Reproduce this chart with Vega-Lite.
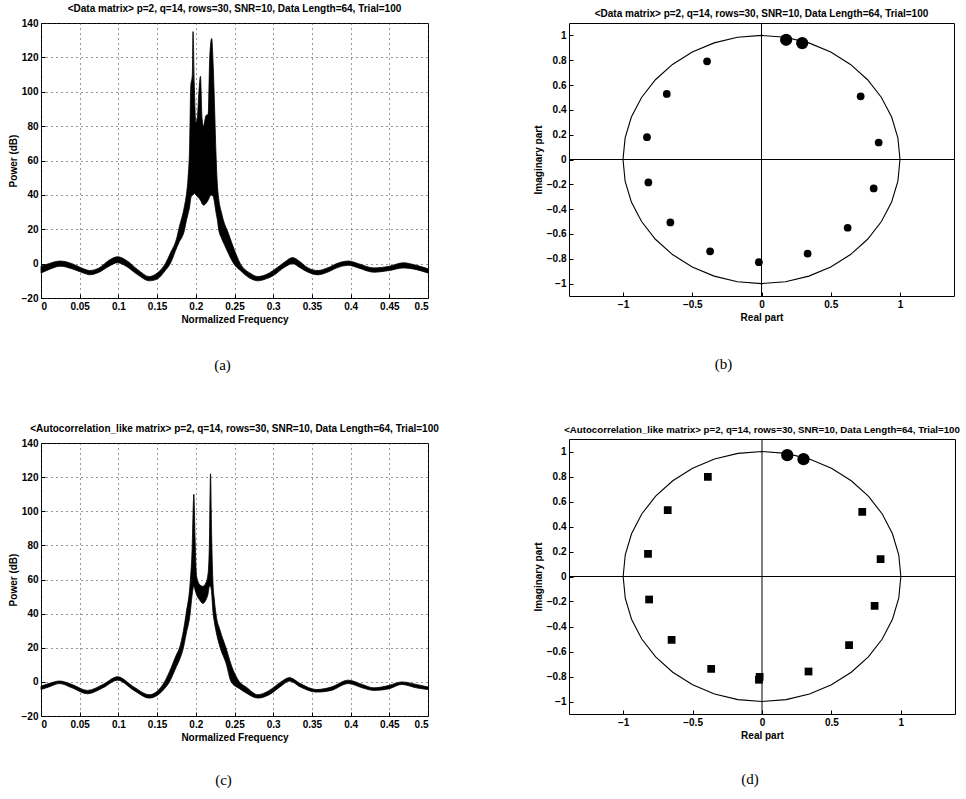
{
  "$schema": "https://vega.github.io/schema/vega-lite/v6.json",
  "background": "white",
  "padding": {"left": 7, "top": 3, "right": 0, "bottom": 0},
  "datasets": {
    "specA": [
      {"f": 0.000, "lo": -5.5, "hi": -1.5}, {"f": 0.010, "lo": -3.5, "hi": 0}, {"f": 0.025, "lo": -1.5, "hi": 1.5},
      {"f": 0.040, "lo": -3, "hi": 0}, {"f": 0.055, "lo": -5.5, "hi": -3}, {"f": 0.063, "lo": -6.5, "hi": -4},
      {"f": 0.075, "lo": -5, "hi": -2.5}, {"f": 0.088, "lo": -1.5, "hi": 2}, {"f": 0.099, "lo": 0.5, "hi": 4},
      {"f": 0.110, "lo": -1.5, "hi": 2}, {"f": 0.125, "lo": -6.5, "hi": -3.5}, {"f": 0.140, "lo": -10, "hi": -7.5},
      {"f": 0.150, "lo": -9, "hi": -5.5}, {"f": 0.1606, "lo": -4, "hi": 0}, {"f": 0.167, "lo": 0, "hi": 6},
      {"f": 0.176, "lo": 10, "hi": 16}, {"f": 0.178, "lo": 12, "hi": 20}, {"f": 0.1856, "lo": 20, "hi": 34},
      {"f": 0.1878, "lo": 25, "hi": 40}, {"f": 0.190, "lo": 29, "hi": 50}, {"f": 0.192, "lo": 33, "hi": 68},
      {"f": 0.1935, "lo": 38, "hi": 103}, {"f": 0.1955, "lo": 40, "hi": 110}, {"f": 0.1964, "lo": 40, "hi": 135},
      {"f": 0.198, "lo": 41, "hi": 105}, {"f": 0.200, "lo": 40, "hi": 82}, {"f": 0.202, "lo": 39, "hi": 85},
      {"f": 0.204, "lo": 38, "hi": 100}, {"f": 0.206, "lo": 37, "hi": 109}, {"f": 0.208, "lo": 35, "hi": 85},
      {"f": 0.210, "lo": 34, "hi": 80}, {"f": 0.213, "lo": 35, "hi": 86}, {"f": 0.216, "lo": 37, "hi": 87},
      {"f": 0.218, "lo": 39, "hi": 120}, {"f": 0.2205, "lo": 40, "hi": 131}, {"f": 0.2225, "lo": 39, "hi": 115},
      {"f": 0.224, "lo": 36, "hi": 95}, {"f": 0.226, "lo": 30, "hi": 65}, {"f": 0.228, "lo": 25, "hi": 45},
      {"f": 0.2295, "lo": 20, "hi": 38}, {"f": 0.233, "lo": 15, "hi": 30}, {"f": 0.238, "lo": 10, "hi": 22},
      {"f": 0.240, "lo": 8, "hi": 20}, {"f": 0.249, "lo": 0, "hi": 9}, {"f": 0.2575, "lo": -4, "hi": 0},
      {"f": 0.270, "lo": -8.5, "hi": -5.5}, {"f": 0.280, "lo": -10, "hi": -7.5}, {"f": 0.290, "lo": -9, "hi": -6.5},
      {"f": 0.300, "lo": -7, "hi": -4}, {"f": 0.315, "lo": -2, "hi": 1}, {"f": 0.325, "lo": 0, "hi": 3.5},
      {"f": 0.335, "lo": -2.5, "hi": 1}, {"f": 0.345, "lo": -5, "hi": -2.5}, {"f": 0.358, "lo": -6.5, "hi": -4},
      {"f": 0.370, "lo": -5, "hi": -2.5}, {"f": 0.385, "lo": -2, "hi": 0.5}, {"f": 0.397, "lo": -1, "hi": 1.5},
      {"f": 0.410, "lo": -2.5, "hi": 0}, {"f": 0.430, "lo": -5, "hi": -2.5}, {"f": 0.450, "lo": -4, "hi": -1.5},
      {"f": 0.468, "lo": -2.5, "hi": 0.5}, {"f": 0.485, "lo": -3.5, "hi": -1}, {"f": 0.500, "lo": -5.5, "hi": -3}
    ],
    "specC": [
      {"f": 0.000, "lo": -4.5, "hi": -2.5}, {"f": 0.010, "lo": -3, "hi": -1}, {"f": 0.024, "lo": -1, "hi": 0.5},
      {"f": 0.040, "lo": -3.5, "hi": -1.5}, {"f": 0.060, "lo": -7, "hi": -5}, {"f": 0.080, "lo": -3.5, "hi": -1.5},
      {"f": 0.099, "lo": 1, "hi": 3}, {"f": 0.120, "lo": -5, "hi": -3}, {"f": 0.140, "lo": -9.5, "hi": -7.5},
      {"f": 0.150, "lo": -8, "hi": -5.5}, {"f": 0.1595, "lo": -4, "hi": 0}, {"f": 0.166, "lo": 0, "hi": 6},
      {"f": 0.175, "lo": 9, "hi": 16}, {"f": 0.179, "lo": 13, "hi": 20}, {"f": 0.184, "lo": 20, "hi": 30},
      {"f": 0.1875, "lo": 28, "hi": 40}, {"f": 0.1927, "lo": 40, "hi": 58}, {"f": 0.195, "lo": 50, "hi": 75},
      {"f": 0.1975, "lo": 56, "hi": 110}, {"f": 0.199, "lo": 54, "hi": 85}, {"f": 0.201, "lo": 51, "hi": 62},
      {"f": 0.205, "lo": 48, "hi": 57}, {"f": 0.209, "lo": 46, "hi": 56}, {"f": 0.213, "lo": 48, "hi": 58},
      {"f": 0.216, "lo": 52, "hi": 64}, {"f": 0.2175, "lo": 56, "hi": 80}, {"f": 0.219, "lo": 56, "hi": 122},
      {"f": 0.2205, "lo": 52, "hi": 85}, {"f": 0.222, "lo": 42, "hi": 60}, {"f": 0.224, "lo": 35, "hi": 48},
      {"f": 0.226, "lo": 30, "hi": 40}, {"f": 0.2315, "lo": 20, "hi": 30}, {"f": 0.239, "lo": 11, "hi": 20},
      {"f": 0.2457, "lo": 0, "hi": 10}, {"f": 0.2565, "lo": -4, "hi": 0}, {"f": 0.265, "lo": -6.5, "hi": -3},
      {"f": 0.280, "lo": -9.5, "hi": -7.5}, {"f": 0.295, "lo": -7.5, "hi": -5}, {"f": 0.310, "lo": -2.5, "hi": 0},
      {"f": 0.321, "lo": 0.5, "hi": 2.5}, {"f": 0.335, "lo": -3, "hi": -1}, {"f": 0.356, "lo": -6, "hi": -4.5},
      {"f": 0.375, "lo": -5, "hi": -3}, {"f": 0.397, "lo": -1, "hi": 1}, {"f": 0.415, "lo": -3.5, "hi": -1.5},
      {"f": 0.430, "lo": -5, "hi": -3.5}, {"f": 0.450, "lo": -4, "hi": -2}, {"f": 0.466, "lo": -1.5, "hi": 0},
      {"f": 0.485, "lo": -3.5, "hi": -1.5}, {"f": 0.500, "lo": -4.5, "hi": -3}
    ],
    "circle": [
      {"deg": 0, "re": 1, "im": 0}, {"deg": 10, "re": 0.9848, "im": 0.1736}, {"deg": 20, "re": 0.9397, "im": 0.342},
      {"deg": 30, "re": 0.866, "im": 0.5}, {"deg": 40, "re": 0.766, "im": 0.6428}, {"deg": 50, "re": 0.6428, "im": 0.766},
      {"deg": 60, "re": 0.5, "im": 0.866}, {"deg": 70, "re": 0.342, "im": 0.9397}, {"deg": 80, "re": 0.1736, "im": 0.9848},
      {"deg": 90, "re": 0, "im": 1}, {"deg": 100, "re": -0.1736, "im": 0.9848}, {"deg": 110, "re": -0.342, "im": 0.9397},
      {"deg": 120, "re": -0.5, "im": 0.866}, {"deg": 130, "re": -0.6428, "im": 0.766}, {"deg": 140, "re": -0.766, "im": 0.6428},
      {"deg": 150, "re": -0.866, "im": 0.5}, {"deg": 160, "re": -0.9397, "im": 0.342}, {"deg": 170, "re": -0.9848, "im": 0.1736},
      {"deg": 180, "re": -1, "im": 0}, {"deg": 190, "re": -0.9848, "im": -0.1736}, {"deg": 200, "re": -0.9397, "im": -0.342},
      {"deg": 210, "re": -0.866, "im": -0.5}, {"deg": 220, "re": -0.766, "im": -0.6428}, {"deg": 230, "re": -0.6428, "im": -0.766},
      {"deg": 240, "re": -0.5, "im": -0.866}, {"deg": 250, "re": -0.342, "im": -0.9397}, {"deg": 260, "re": -0.1736, "im": -0.9848},
      {"deg": 270, "re": 0, "im": -1}, {"deg": 280, "re": 0.1736, "im": -0.9848}, {"deg": 290, "re": 0.342, "im": -0.9397},
      {"deg": 300, "re": 0.5, "im": -0.866}, {"deg": 310, "re": 0.6428, "im": -0.766}, {"deg": 320, "re": 0.766, "im": -0.6428},
      {"deg": 330, "re": 0.866, "im": -0.5}, {"deg": 340, "re": 0.9397, "im": -0.342}, {"deg": 350, "re": 0.9848, "im": -0.1736},
      {"deg": 360, "re": 1, "im": 0}
    ],
    "polesB": [
      {"re": 0.178, "im": 0.965, "kind": "signal"}, {"re": 0.294, "im": 0.938, "kind": "signal"},
      {"re": 0.716, "im": 0.509, "kind": "noise"}, {"re": 0.846, "im": 0.137, "kind": "noise"},
      {"re": 0.810, "im": -0.233, "kind": "noise"}, {"re": 0.622, "im": -0.550, "kind": "noise"},
      {"re": 0.333, "im": -0.759, "kind": "noise"}, {"re": -0.019, "im": -0.828, "kind": "noise"},
      {"re": -0.371, "im": -0.740, "kind": "noise"}, {"re": -0.658, "im": -0.507, "kind": "noise"},
      {"re": -0.817, "im": -0.185, "kind": "noise"}, {"re": -0.827, "im": 0.180, "kind": "noise"},
      {"re": -0.684, "im": 0.528, "kind": "noise"}, {"re": -0.393, "im": 0.791, "kind": "noise"}
    ],
    "polesD": [
      {"re": 0.182, "im": 0.971, "kind": "signal"}, {"re": 0.299, "im": 0.939, "kind": "signal"},
      {"re": 0.722, "im": 0.517, "kind": "noise"}, {"re": 0.854, "im": 0.139, "kind": "noise"},
      {"re": 0.811, "im": -0.235, "kind": "noise"}, {"re": 0.627, "im": -0.549, "kind": "noise"},
      {"re": 0.335, "im": -0.760, "kind": "noise"}, {"re": -0.017, "im": -0.803, "kind": "noise"},
      {"re": -0.022, "im": -0.826, "kind": "noise"}, {"re": -0.366, "im": -0.739, "kind": "noise"},
      {"re": -0.651, "im": -0.507, "kind": "noise"}, {"re": -0.813, "im": -0.184, "kind": "noise"},
      {"re": -0.821, "im": 0.181, "kind": "noise"}, {"re": -0.679, "im": 0.531, "kind": "noise"},
      {"re": -0.390, "im": 0.797, "kind": "noise"}
    ],
    "origin": [{"re": 0, "im": 0}]
  },
  "hconcat": [
    {
      "spacing": 0,
      "vconcat": [
        {
          "width": 387, "height": 275,
          "title": "<Data matrix> p=2, q=14, rows=30, SNR=10, Data Length=64, Trial=100",
          "data": {"name": "specA"},
          "mark": {"type": "area", "color": "black", "stroke": "black", "strokeWidth": 0.8, "interpolate": "monotone"},
          "encoding": {
            "x": {"field": "f", "type": "quantitative", "scale": {"domain": [0, 0.5], "nice": false},
                  "axis": {"values": [0, 0.05, 0.1, 0.15, 0.2, 0.25, 0.3, 0.35, 0.4, 0.45, 0.5], "format": "~g", "title": "Normalized Frequency", "grid": true}},
            "y": {"field": "hi", "type": "quantitative", "scale": {"domain": [-20, 140], "nice": false},
                  "axis": {"values": [-20, 0, 20, 40, 60, 80, 100, 120, 140], "title": "Power (dB)", "grid": true}},
            "y2": {"field": "lo"}
          }
        },
        {
          "width": 387, "height": 98,
          "view": {"stroke": null},
          "data": {"values": [{"label": "(a)"}]},
          "mark": {"type": "text", "font": "Liberation Serif", "fontSize": 15, "dy": -9, "dx": -12, "color": "black"},
          "encoding": {"text": {"field": "label"}}
        },
        {
          "width": 387, "height": 273,
          "title": "<Autocorrelation_like matrix> p=2, q=14, rows=30, SNR=10, Data Length=64, Trial=100",
          "data": {"name": "specC"},
          "mark": {"type": "area", "color": "black", "stroke": "black", "strokeWidth": 0.8, "interpolate": "monotone"},
          "encoding": {
            "x": {"field": "f", "type": "quantitative", "scale": {"domain": [0, 0.5], "nice": false},
                  "axis": {"values": [0, 0.05, 0.1, 0.15, 0.2, 0.25, 0.3, 0.35, 0.4, 0.45, 0.5], "format": "~g", "title": "Normalized Frequency", "grid": true}},
            "y": {"field": "hi", "type": "quantitative", "scale": {"domain": [-20, 140], "nice": false},
                  "axis": {"values": [-20, 0, 20, 40, 60, 80, 100, 120, 140], "title": "Power (dB)", "grid": true}},
            "y2": {"field": "lo"}
          }
        },
        {
          "width": 387, "height": 60,
          "view": {"stroke": null},
          "data": {"values": [{"label": "(c)"}]},
          "mark": {"type": "text", "font": "Liberation Serif", "fontSize": 15, "dy": 7, "dx": -11, "color": "black"},
          "encoding": {"text": {"field": "label"}}
        }
      ]
    },
    {
      "spacing": 0,
      "vconcat": [
        {
          "width": 385, "height": 273,
          "title": "<Data matrix> p=2, q=14, rows=30, SNR=10, Data Length=64, Trial=100",
          "layer": [
            {
              "data": {"name": "circle"},
              "mark": {"type": "line", "color": "black", "strokeWidth": 1.1},
              "encoding": {
                "x": {"field": "re", "type": "quantitative", "scale": {"domain": [-1.39, 1.39], "nice": false},
                      "axis": {"values": [-1, -0.5, 0, 0.5, 1], "format": "~g", "title": "Real part"}},
                "y": {"field": "im", "type": "quantitative", "scale": {"domain": [-1.1, 1.1], "nice": false},
                      "axis": {"values": [-1, -0.8, -0.6, -0.4, -0.2, 0, 0.2, 0.4, 0.6, 0.8, 1], "format": "~g", "title": "Imaginary part"}},
                "order": {"field": "deg", "type": "quantitative"}
              }
            },
            {"data": {"name": "origin"}, "mark": {"type": "rule", "color": "black", "strokeWidth": 1},
             "encoding": {"x": {"field": "re", "type": "quantitative", "scale": {"domain": [-1.39, 1.39], "nice": false},
                                "axis": {"values": [-1, -0.5, 0, 0.5, 1], "format": "~g", "title": "Real part"}}}},
            {"data": {"name": "origin"}, "mark": {"type": "rule", "color": "black", "strokeWidth": 1},
             "encoding": {"y": {"field": "im", "type": "quantitative", "scale": {"domain": [-1.1, 1.1], "nice": false},
                                "axis": {"values": [-1, -0.8, -0.6, -0.4, -0.2, 0, 0.2, 0.4, 0.6, 0.8, 1], "format": "~g", "title": "Imaginary part"}}}},
            {
              "data": {"name": "polesB"},
              "mark": {"type": "point", "filled": true, "color": "black", "opacity": 1, "shape": "circle"},
              "encoding": {
                "x": {"field": "re", "type": "quantitative", "scale": {"domain": [-1.39, 1.39], "nice": false},
                      "axis": {"values": [-1, -0.5, 0, 0.5, 1], "format": "~g", "title": "Real part"}},
                "y": {"field": "im", "type": "quantitative", "scale": {"domain": [-1.1, 1.1], "nice": false},
                      "axis": {"values": [-1, -0.8, -0.6, -0.4, -0.2, 0, 0.2, 0.4, 0.6, 0.8, 1], "format": "~g", "title": "Imaginary part"}},
                "size": {"field": "kind", "type": "nominal", "scale": {"domain": ["signal", "noise"], "range": [150, 60]}, "legend": null}
              }
            }
          ]
        },
        {
          "width": 385, "height": 101,
          "view": {"stroke": null},
          "data": {"values": [{"label": "(b)"}]},
          "mark": {"type": "text", "font": "Liberation Serif", "fontSize": 15, "dy": -10, "dx": -38, "color": "black"},
          "encoding": {"text": {"field": "label"}}
        },
        {
          "width": 386, "height": 275,
          "title": {"text": "<Autocorrelation_like matrix> p=2, q=14, rows=30, SNR=10, Data Length=64, Trial=100", "fontSize": 9.7},
          "layer": [
            {
              "data": {"name": "circle"},
              "mark": {"type": "line", "color": "black", "strokeWidth": 1.1},
              "encoding": {
                "x": {"field": "re", "type": "quantitative", "scale": {"domain": [-1.39, 1.39], "nice": false},
                      "axis": {"values": [-1, -0.5, 0, 0.5, 1], "format": "~g", "title": "Real part"}},
                "y": {"field": "im", "type": "quantitative", "scale": {"domain": [-1.1, 1.1], "nice": false},
                      "axis": {"values": [-1, -0.8, -0.6, -0.4, -0.2, 0, 0.2, 0.4, 0.6, 0.8, 1], "format": "~g", "title": "Imaginary part"}},
                "order": {"field": "deg", "type": "quantitative"}
              }
            },
            {"data": {"name": "origin"}, "mark": {"type": "rule", "color": "black", "strokeWidth": 1},
             "encoding": {"x": {"field": "re", "type": "quantitative", "scale": {"domain": [-1.39, 1.39], "nice": false},
                                "axis": {"values": [-1, -0.5, 0, 0.5, 1], "format": "~g", "title": "Real part"}}}},
            {"data": {"name": "origin"}, "mark": {"type": "rule", "color": "black", "strokeWidth": 1},
             "encoding": {"y": {"field": "im", "type": "quantitative", "scale": {"domain": [-1.1, 1.1], "nice": false},
                                "axis": {"values": [-1, -0.8, -0.6, -0.4, -0.2, 0, 0.2, 0.4, 0.6, 0.8, 1], "format": "~g", "title": "Imaginary part"}}}},
            {
              "data": {"name": "polesD"},
              "mark": {"type": "point", "filled": true, "color": "black", "opacity": 1},
              "encoding": {
                "x": {"field": "re", "type": "quantitative", "scale": {"domain": [-1.39, 1.39], "nice": false},
                      "axis": {"values": [-1, -0.5, 0, 0.5, 1], "format": "~g", "title": "Real part"}},
                "y": {"field": "im", "type": "quantitative", "scale": {"domain": [-1.1, 1.1], "nice": false},
                      "axis": {"values": [-1, -0.8, -0.6, -0.4, -0.2, 0, 0.2, 0.4, 0.6, 0.8, 1], "format": "~g", "title": "Imaginary part"}},
                "shape": {"field": "kind", "type": "nominal", "scale": {"domain": ["signal", "noise"], "range": ["circle", "square"]}, "legend": null},
                "size": {"field": "kind", "type": "nominal", "scale": {"domain": ["signal", "noise"], "range": [55, 30]}, "legend": null}
              }
            }
          ]
        },
        {
          "width": 386, "height": 60,
          "view": {"stroke": null},
          "data": {"values": [{"label": "(d)"}]},
          "mark": {"type": "text", "font": "Liberation Serif", "fontSize": 15, "dy": 8, "dx": -12, "color": "black"},
          "encoding": {"text": {"field": "label"}}
        }
      ]
    }
  ],
  "spacing": 92,
  "config": {
    "font": "Liberation Sans",
    "view": {"stroke": "black", "strokeWidth": 1},
    "axis": {
      "labelFont": "Liberation Sans", "labelFontSize": 10, "labelFontWeight": "bold", "labelColor": "black",
      "titleFont": "Liberation Sans", "titleFontSize": 10, "titleFontWeight": "bold", "titleColor": "black",
      "domain": false, "ticks": true, "tickColor": "black", "tickWidth": 1, "tickSize": -4, "labelPadding": 7, "titlePadding": 3,
      "labelOverlap": false, "labelSeparation": 0, "zindex": 1,
      "grid": false, "gridColor": "#333", "gridDash": [1, 4], "gridOpacity": 1, "gridWidth": 1
    },
    "title": {"font": "Liberation Sans", "fontSize": 10, "fontWeight": "bold", "color": "black", "frame": "group", "anchor": "middle", "offset": 4}
  }
}
